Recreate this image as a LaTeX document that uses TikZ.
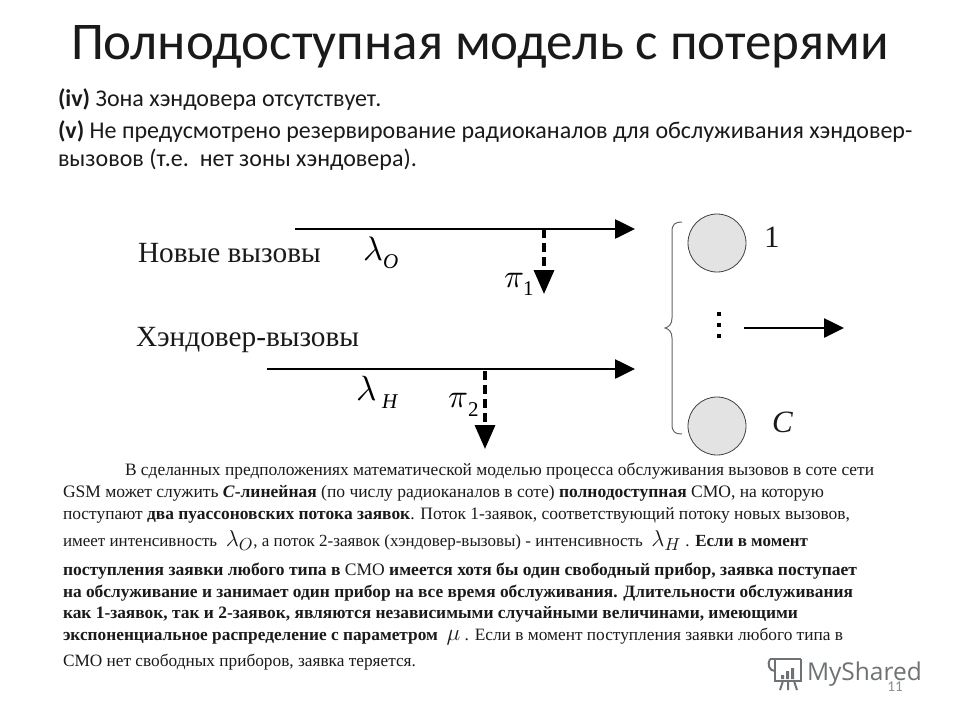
\documentclass[tikz,border=0pt]{standalone}
\usepackage{fontspec}
\usepackage{graphicx}
\usetikzlibrary{arrows.meta}
\setmainfont{Liberation Serif}
\newfontfamily\calfont{Carlito}
\newfontfamily\lsans{Open Sans}
\definecolor{inktxt}{HTML}{1A1A1A}
\definecolor{logogray}{HTML}{6E7274}
\newcommand{\gl}[1]{\scalebox{1.45}{$\lambda_{#1}$}}
\tikzset{
 every node/.style={inner sep=0pt,outer sep=0pt},
 slide/.style={anchor=base west,font=\calfont\fontsize{24}{24}\selectfont,text=inktxt},
 headtxt/.style={anchor=base west,font=\calfont\fontsize{53}{54}\selectfont,text=inktxt},
 dlabel/.style={anchor=base west,font=\fontsize{29.3}{29}\selectfont,text=inktxt},
 sym/.style={anchor=base west,text=black},
 subsym/.style={anchor=base west,font=\fontsize{21}{21}\selectfont,text=black},
 bodyline/.style={anchor=base west,font=\fontsize{15.5}{16}\selectfont,text=inktxt},
 flow/.style={line width=2.6pt,-{Triangle[length=20pt,width=19pt]},black},
 loss/.style={line width=3.4pt,dash pattern=on 9pt off 5pt,-{Triangle[length=24pt,width=20pt]},black},
 server/.style={circle,draw=black!75,line width=.8pt,fill=black!11,minimum size=58pt},
 dotmark/.style={fill=black,minimum width=3.6pt,minimum height=3.6pt},
 brace/.style={draw=black!60,line width=1pt},
 logo/.style={draw=logogray,line width=2pt}
}
\newcommand{\fitline}[4]{\node[bodyline] (#1) at (#2) {\resizebox{#3pt}{!}{\strut #4}};}
\begin{document}
\begin{tikzpicture}[x=1pt,y=-1pt]
\useasboundingbox (0,0) rectangle (960,720);
\fill[white] (0,0) rectangle (960,720);
\node[headtxt] (title) at (71,59) {Полнодоступная модель с потерями};
\node[slide] (s1) at (58,106) {\textbf{(iv)} Зона хэндовера отсутствует.};
\node[slide] (s2) at (58,138) {\textbf{(v)} Не предусмотрено резервирование радиоканалов для обслуживания хэндовер-};
\node[slide] (s3) at (58,166.5) {вызовов (т.е.\ \ нет зоны хэндовера).};
% flows
\coordinate (a1) at (295,229); \coordinate (a2) at (635,229);
\coordinate (b1) at (267,369); \coordinate (b2) at (635,369);
\coordinate (c1) at (744,328); \coordinate (c2) at (844,328);
\coordinate (d1) at (544,229); \coordinate (d2) at (544,294);
\coordinate (e1) at (485,371); \coordinate (e2) at (485,449);
\draw[flow] (a1) -- (a2);
\draw[flow] (b1) -- (b2);
\draw[flow] (c1) -- (c2);
\draw[loss] (d1) -- (d2);
\draw[loss] (e1) -- (e2);
\node[dlabel] (n1) at (138,262) {Новые вызовы};
\node[dlabel] (n2) at (136,346) {Хэндовер-вызовы};
\node[sym] (l1) at (363,260) {\scalebox{3.4}{$\lambda$}};
\node[subsym] (l1s) at (383,268) {\itshape O};
\node[sym] (l2) at (356,400) {\scalebox{3.5}{$\lambda$}};
\node[subsym] (l2s) at (382,408) {\itshape H};
\node[sym] (p1) at (504,287) {\scalebox{3.3}{$\pi$}};
\node[subsym] (p1s) at (523,295) {1};
\node[sym] (p2) at (448,407) {\scalebox{3.3}{$\pi$}};
\node[subsym] (p2s) at (468,416) {2};
\node[server] (c1srv) at (717,243) {};
\node[server] (c2srv) at (717,426) {};
\node[anchor=base west,font=\fontsize{31}{31}\selectfont,text=inktxt] (one) at (764,247) {1};
\node[anchor=base west,font=\fontsize{31}{31}\selectfont\itshape,text=inktxt] (cc) at (772,432) {C};
\node[dotmark] (dt1) at (719,314) {};
\node[dotmark] (dt2) at (719,325) {};
\node[dotmark] (dt3) at (719,336) {};
\path[brace] (682,222) .. controls (675,222) and (672,224) .. (672,232) -- (672,318)
 .. controls (672,324) and (669,327) .. (665,328) .. controls (669,329) and (672,332) .. (672,338)
 -- (672,424) .. controls (672,432) and (675,434) .. (682,434);
% paragraph
\fitline{t1}{125,475}{749}{В сделанных предположениях математической моделью процесса обслуживания вызовов в соте сети}
\fitline{t2}{63,497}{761}{GSM может служить \textbf{\textit{C}-линейная} (по числу радиоканалов в соте) \textbf{полнодоступная} СМО, на которую}
\fitline{t3}{63,519}{787}{поступают \textbf{два пуассоновских потока заявок}. Поток 1-заявок, соответствующий потоку новых вызовов,}
\fitline{t4}{63,546}{745}{имеет интенсивность \ \gl{O}, а поток 2-заявок (хэндовер-вызовы) - интенсивность \ \gl{H} . \textbf{Если в момент}}
\fitline{t5}{63,575}{794}{\textbf{поступления заявки любого типа в} СМО \textbf{имеется хотя бы один свободный прибор, заявка поступает}}
\fitline{t6}{63,597}{790}{\textbf{на обслуживание и занимает один прибор на все время обслуживания. Длительности обслуживания}}
\fitline{t7}{63,618}{735}{\textbf{как 1-заявок, так и 2-заявок, являются независимыми случайными величинами, имеющими}}
\fitline{t8}{63,640}{780}{\textbf{экспоненциальное распределение с параметром} \ \scalebox{1.45}{$\mu$} . Если в момент поступления заявки любого типа в}
\fitline{t9}{63,666}{353}{СМО нет свободных приборов, заявка теряется.}
% watermark
\node[anchor=west,font=\lsans\fontsize{24.5}{25}\selectfont,text=logogray] (wm) at (807,674) {MyShared};
\draw[logo] (770,659) -- (801,659) (775,659) -- (775,681) -- (801,681) -- (801,659);
\draw[logo] (770,659) .. controls (767,664) and (769,671) .. (775,671);
\fill[logogray] (781,675) rectangle (784,679) (786,671) rectangle (789,679) (791,668) rectangle (794,679);
\draw[logo] (783,681) -- (780,690) (788,681) -- (788,690) (794,681) -- (797,690);
\node[anchor=center,font=\calfont\fontsize{15}{15}\selectfont,text=black!45] (pg) at (895,687) {11};
\end{tikzpicture}
\end{document}
